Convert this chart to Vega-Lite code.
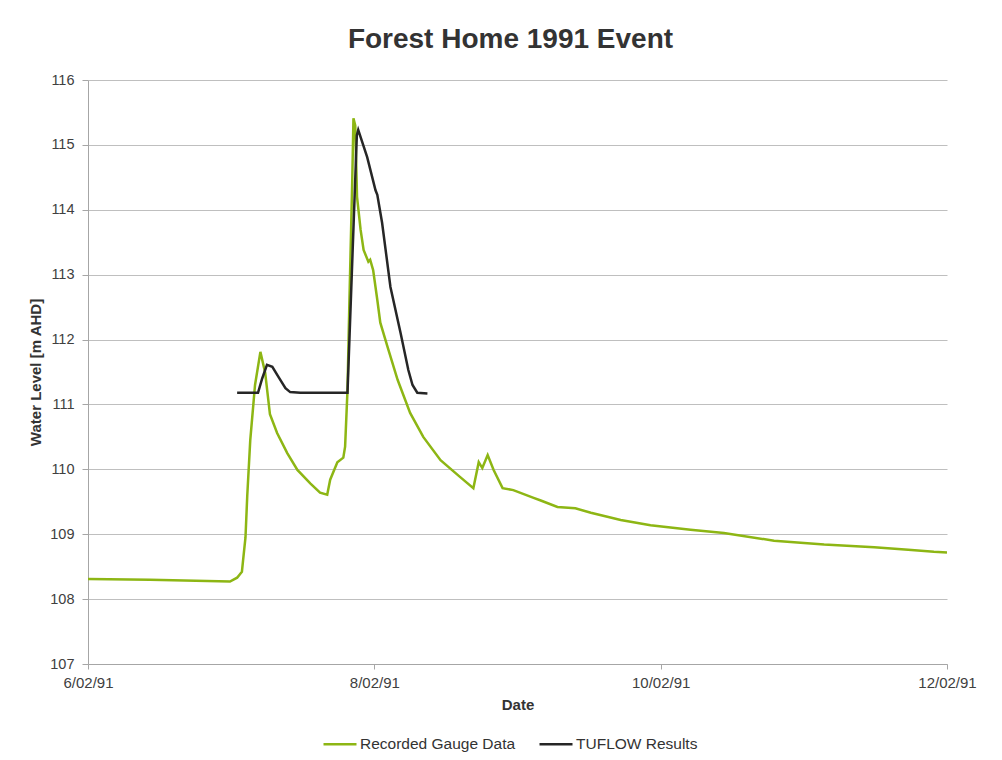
{
  "$schema": "https://vega.github.io/schema/vega-lite/v6.json",
  "width": 859,
  "height": 584,
  "autosize": {"type": "none"},
  "padding": {"left": 88, "top": 80, "right": 55, "bottom": 96},
  "background": "white",
  "config": {
    "font": "Liberation Sans",
    "view": {"stroke": null}
  },
  "title": {
    "text": "Forest Home 1991 Event",
    "fontSize": 28,
    "fontWeight": "bold",
    "color": "#333333",
    "anchor": "middle",
    "offset": 18,
    "dx": -7
  },
  "data": {
    "values": [
      {"t": "1991-02-06T00:00", "v": 108.31, "s": "Recorded Gauge Data"},
      {"t": "1991-02-06T10:24", "v": 108.30, "s": "Recorded Gauge Data"},
      {"t": "1991-02-06T23:48", "v": 108.27, "s": "Recorded Gauge Data"},
      {"t": "1991-02-07T01:00", "v": 108.33, "s": "Recorded Gauge Data"},
      {"t": "1991-02-07T01:48", "v": 108.42, "s": "Recorded Gauge Data"},
      {"t": "1991-02-07T02:00", "v": 108.6, "s": "Recorded Gauge Data"},
      {"t": "1991-02-07T02:24", "v": 108.95, "s": "Recorded Gauge Data"},
      {"t": "1991-02-07T02:42", "v": 109.6, "s": "Recorded Gauge Data"},
      {"t": "1991-02-07T03:12", "v": 110.45, "s": "Recorded Gauge Data"},
      {"t": "1991-02-07T04:00", "v": 111.3, "s": "Recorded Gauge Data"},
      {"t": "1991-02-07T04:54", "v": 111.81, "s": "Recorded Gauge Data"},
      {"t": "1991-02-07T05:42", "v": 111.49, "s": "Recorded Gauge Data"},
      {"t": "1991-02-07T06:30", "v": 110.85, "s": "Recorded Gauge Data"},
      {"t": "1991-02-07T07:42", "v": 110.56, "s": "Recorded Gauge Data"},
      {"t": "1991-02-07T09:24", "v": 110.25, "s": "Recorded Gauge Data"},
      {"t": "1991-02-07T11:06", "v": 109.99, "s": "Recorded Gauge Data"},
      {"t": "1991-02-07T13:18", "v": 109.78, "s": "Recorded Gauge Data"},
      {"t": "1991-02-07T14:54", "v": 109.64, "s": "Recorded Gauge Data"},
      {"t": "1991-02-07T16:06", "v": 109.61, "s": "Recorded Gauge Data"},
      {"t": "1991-02-07T16:36", "v": 109.84, "s": "Recorded Gauge Data"},
      {"t": "1991-02-07T17:48", "v": 110.11, "s": "Recorded Gauge Data"},
      {"t": "1991-02-07T18:48", "v": 110.18, "s": "Recorded Gauge Data"},
      {"t": "1991-02-07T19:06", "v": 110.35, "s": "Recorded Gauge Data"},
      {"t": "1991-02-07T19:30", "v": 111.22, "s": "Recorded Gauge Data"},
      {"t": "1991-02-07T19:48", "v": 112.5, "s": "Recorded Gauge Data"},
      {"t": "1991-02-07T20:18", "v": 114.46, "s": "Recorded Gauge Data"},
      {"t": "1991-02-07T20:30", "v": 115.41, "s": "Recorded Gauge Data"},
      {"t": "1991-02-07T20:48", "v": 115.3, "s": "Recorded Gauge Data"},
      {"t": "1991-02-07T21:06", "v": 114.2, "s": "Recorded Gauge Data"},
      {"t": "1991-02-07T21:42", "v": 113.69, "s": "Recorded Gauge Data"},
      {"t": "1991-02-07T22:12", "v": 113.38, "s": "Recorded Gauge Data"},
      {"t": "1991-02-07T23:00", "v": 113.2, "s": "Recorded Gauge Data"},
      {"t": "1991-02-07T23:18", "v": 113.23, "s": "Recorded Gauge Data"},
      {"t": "1991-02-07T23:48", "v": 113.07, "s": "Recorded Gauge Data"},
      {"t": "1991-02-08T00:30", "v": 112.61, "s": "Recorded Gauge Data"},
      {"t": "1991-02-08T01:00", "v": 112.26, "s": "Recorded Gauge Data"},
      {"t": "1991-02-08T02:12", "v": 111.89, "s": "Recorded Gauge Data"},
      {"t": "1991-02-08T03:54", "v": 111.38, "s": "Recorded Gauge Data"},
      {"t": "1991-02-08T06:00", "v": 110.87, "s": "Recorded Gauge Data"},
      {"t": "1991-02-08T08:12", "v": 110.5, "s": "Recorded Gauge Data"},
      {"t": "1991-02-08T11:06", "v": 110.14, "s": "Recorded Gauge Data"},
      {"t": "1991-02-08T14:24", "v": 109.88, "s": "Recorded Gauge Data"},
      {"t": "1991-02-08T16:36", "v": 109.71, "s": "Recorded Gauge Data"},
      {"t": "1991-02-08T17:30", "v": 110.11, "s": "Recorded Gauge Data"},
      {"t": "1991-02-08T18:06", "v": 110.02, "s": "Recorded Gauge Data"},
      {"t": "1991-02-08T19:00", "v": 110.22, "s": "Recorded Gauge Data"},
      {"t": "1991-02-08T20:00", "v": 109.99, "s": "Recorded Gauge Data"},
      {"t": "1991-02-08T21:30", "v": 109.71, "s": "Recorded Gauge Data"},
      {"t": "1991-02-08T23:18", "v": 109.68, "s": "Recorded Gauge Data"},
      {"t": "1991-02-09T02:42", "v": 109.56, "s": "Recorded Gauge Data"},
      {"t": "1991-02-09T03:54", "v": 109.52, "s": "Recorded Gauge Data"},
      {"t": "1991-02-09T06:42", "v": 109.42, "s": "Recorded Gauge Data"},
      {"t": "1991-02-09T09:42", "v": 109.40, "s": "Recorded Gauge Data"},
      {"t": "1991-02-09T12:18", "v": 109.33, "s": "Recorded Gauge Data"},
      {"t": "1991-02-09T17:18", "v": 109.22, "s": "Recorded Gauge Data"},
      {"t": "1991-02-09T22:18", "v": 109.14, "s": "Recorded Gauge Data"},
      {"t": "1991-02-10T05:00", "v": 109.07, "s": "Recorded Gauge Data"},
      {"t": "1991-02-10T10:36", "v": 109.02, "s": "Recorded Gauge Data"},
      {"t": "1991-02-10T19:00", "v": 108.90, "s": "Recorded Gauge Data"},
      {"t": "1991-02-11T03:24", "v": 108.84, "s": "Recorded Gauge Data"},
      {"t": "1991-02-11T11:48", "v": 108.80, "s": "Recorded Gauge Data"},
      {"t": "1991-02-11T17:30", "v": 108.76, "s": "Recorded Gauge Data"},
      {"t": "1991-02-11T21:48", "v": 108.73, "s": "Recorded Gauge Data"},
      {"t": "1991-02-12T00:00", "v": 108.72, "s": "Recorded Gauge Data"},
      {"t": "1991-02-07T01:00", "v": 111.18, "s": "TUFLOW Results"},
      {"t": "1991-02-07T04:30", "v": 111.18, "s": "TUFLOW Results"},
      {"t": "1991-02-07T05:12", "v": 111.4, "s": "TUFLOW Results"},
      {"t": "1991-02-07T06:00", "v": 111.61, "s": "TUFLOW Results"},
      {"t": "1991-02-07T06:54", "v": 111.58, "s": "TUFLOW Results"},
      {"t": "1991-02-07T07:54", "v": 111.43, "s": "TUFLOW Results"},
      {"t": "1991-02-07T09:06", "v": 111.25, "s": "TUFLOW Results"},
      {"t": "1991-02-07T09:54", "v": 111.19, "s": "TUFLOW Results"},
      {"t": "1991-02-07T11:36", "v": 111.18, "s": "TUFLOW Results"},
      {"t": "1991-02-07T19:30", "v": 111.18, "s": "TUFLOW Results"},
      {"t": "1991-02-07T21:04", "v": 115.15, "s": "TUFLOW Results"},
      {"t": "1991-02-07T21:18", "v": 115.23, "s": "TUFLOW Results"},
      {"t": "1991-02-07T22:48", "v": 114.81, "s": "TUFLOW Results"},
      {"t": "1991-02-08T00:12", "v": 114.3, "s": "TUFLOW Results"},
      {"t": "1991-02-08T00:30", "v": 114.23, "s": "TUFLOW Results"},
      {"t": "1991-02-08T01:18", "v": 113.8, "s": "TUFLOW Results"},
      {"t": "1991-02-08T02:42", "v": 112.81, "s": "TUFLOW Results"},
      {"t": "1991-02-08T04:24", "v": 112.1, "s": "TUFLOW Results"},
      {"t": "1991-02-08T05:42", "v": 111.53, "s": "TUFLOW Results"},
      {"t": "1991-02-08T06:24", "v": 111.3, "s": "TUFLOW Results"},
      {"t": "1991-02-08T07:12", "v": 111.18, "s": "TUFLOW Results"},
      {"t": "1991-02-08T08:54", "v": 111.17, "s": "TUFLOW Results"}
    ]
  },
  "mark": {"type": "line", "strokeWidth": 2.5, "interpolate": "linear"},
  "encoding": {
    "x": {
      "field": "t",
      "type": "temporal",
      "title": "Date",
      "scale": {
        "domain": [
          {"year": 1991, "month": 2, "date": 6},
          {"year": 1991, "month": 2, "date": 12}
        ]
      },
      "axis": {
        "values": [
          {"year": 1991, "month": 2, "date": 6},
          {"year": 1991, "month": 2, "date": 8},
          {"year": 1991, "month": 2, "date": 10},
          {"year": 1991, "month": 2, "date": 12}
        ],
        "format": "%-d/%m/%y",
        "grid": false,
        "domainColor": "#A6A6A6",
        "tickColor": "#A6A6A6",
        "tickSize": 5,
        "labelFontSize": 15,
        "labelColor": "#404040",
        "labelPadding": 6,
        "labelFlush": false,
        "titleFontSize": 15,
        "titleFontWeight": "bold",
        "titleColor": "#333333",
        "titlePadding": 7
      }
    },
    "y": {
      "field": "v",
      "type": "quantitative",
      "title": "Water Level [m AHD]",
      "scale": {"domain": [107, 116], "nice": false, "zero": false},
      "axis": {
        "values": [107, 108, 109, 110, 111, 112, 113, 114, 115, 116],
        "grid": true,
        "gridColor": "#BFBFBF",
        "gridWidth": 1,
        "domainColor": "#A6A6A6",
        "tickColor": "#A6A6A6",
        "tickSize": 6,
        "labelFontSize": 14.5,
        "labelColor": "#404040",
        "labelPadding": 8,
        "titleFontSize": 15,
        "titleFontWeight": "bold",
        "titleColor": "#333333",
        "titlePadding": 6
      }
    },
    "color": {
      "field": "s",
      "type": "nominal",
      "scale": {
        "domain": ["Recorded Gauge Data", "TUFLOW Results"],
        "range": ["#8DB614", "#262626"]
      },
      "legend": {
        "title": null,
        "orient": "none",
        "direction": "horizontal",
        "legendX": 234,
        "legendY": 646,
        "symbolType": "stroke",
        "symbolStrokeWidth": 2.5,
        "symbolSize": 1089,
        "labelFontSize": 15.5,
        "labelColor": "#333333",
        "labelOffset": 2,
        "columnPadding": 18
      }
    }
  }
}
